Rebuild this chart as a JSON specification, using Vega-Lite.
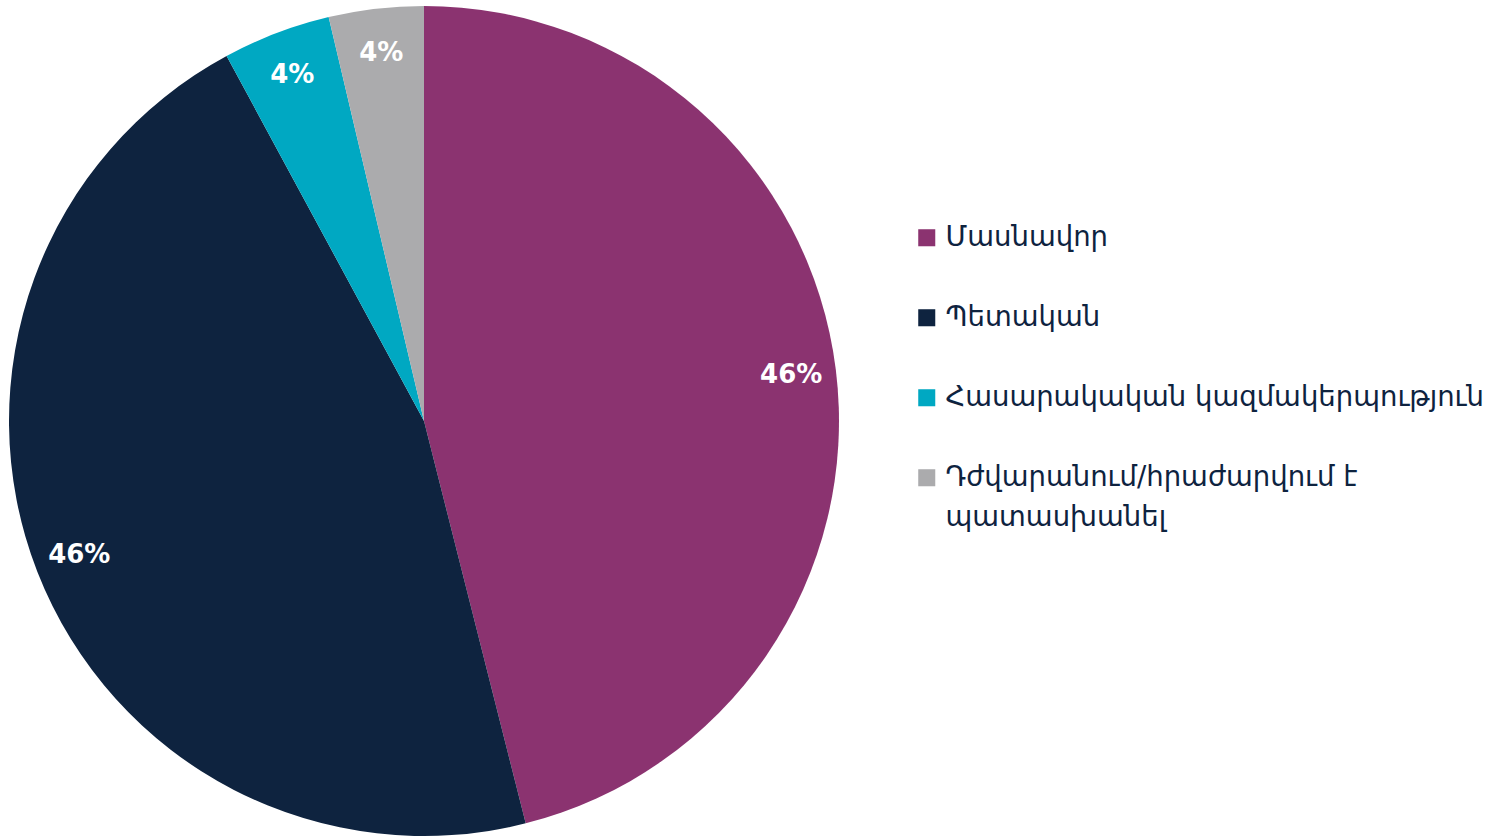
{
  "$schema": "https://vega.github.io/schema/vega-lite/v6.json",
  "width": 848,
  "height": 842,
  "padding": 0,
  "autosize": {"type": "pad"},
  "background": "white",
  "config": {"view": {"stroke": null}, "font": "DejaVu Sans", "style": {"guide-label": {"lineHeight": 40}}},
  "data": {
    "values": [
      {"category": "Մասնավոր", "share": 0.4606, "order": 1},
      {"category": "Պետական", "share": 0.4605, "order": 2},
      {"category": "Հասարակական կազմակերպություն", "share": 0.042, "order": 3},
      {"category": "Դժվարանում/հրաժարվում է պատասխանել", "share": 0.0369, "order": 4}
    ]
  },
  "encoding": {
    "theta": {"field": "share", "type": "quantitative", "stack": true},
    "order": {"field": "order", "type": "quantitative"},
    "color": {
      "field": "category",
      "type": "nominal",
      "sort": ["Մասնավոր", "Պետական", "Հասարակական կազմակերպություն", "Դժվարանում/հրաժարվում է պատասխանել"],
      "scale": {
        "domain": ["Մասնավոր", "Պետական", "Հասարակական կազմակերպություն", "Դժվարանում/հրաժարվում է պատասխանել"],
        "range": ["#8B3370", "#0E233F", "#00A8C2", "#ABABAD"]
      },
      "legend": {
        "title": null,
        "orient": "none",
        "legendX": 913,
        "legendY": 224,
        "symbolType": "square",
        "symbolSize": 290,
        "symbolStrokeWidth": 0,
        "labelFontSize": 27.5,
        "labelColor": "#0E233F",
        "labelFont": "DejaVu Sans",
        "labelOffset": 5,
        "labelLimit": 700,
        "rowPadding": 51,
        "labelExpr": "datum.label == 'Դժվարանում/հրաժարվում է պատասխանել' ? ['Դժվարանում/հրաժարվում է', 'պատասխանել'] : datum.label"
      }
    }
  },
  "layer": [
    {"mark": {"type": "arc", "outerRadius": 415, "stroke": null}},
    {
      "mark": {"type": "text", "radius": 370, "fontSize": 26, "fontWeight": "bold", "fill": "white", "font": "DejaVu Sans"},
      "encoding": {
        "text": {"field": "share", "type": "quantitative", "format": ".0%"},
        "color": {"value": "white"}
      }
    }
  ]
}
